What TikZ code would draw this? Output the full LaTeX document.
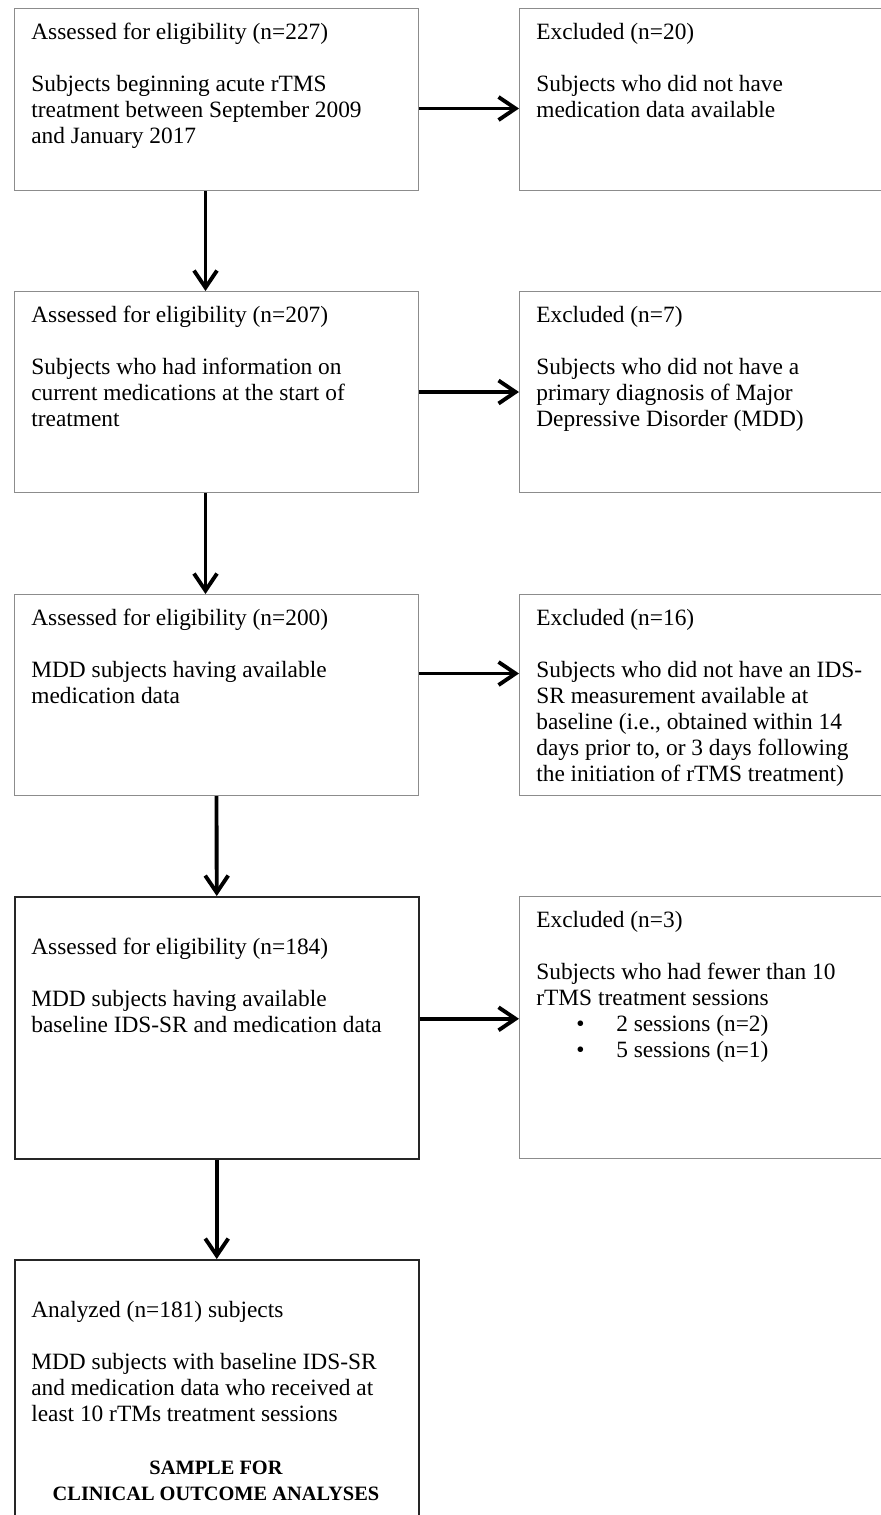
\documentclass[tikz,border=0pt]{standalone}
\usepackage{fontspec}
\setmainfont{Liberation Serif}
\usetikzlibrary{positioning,arrows.meta}

\begin{document}
\begin{tikzpicture}[
  x=0.02cm, y=-0.02cm,
  flowbox/.style={draw=black!45, line width=0.6pt, minimum width=8.08cm,
    anchor=north west, inner sep=0pt},
  mainbox/.style={flowbox, draw=black!85, line width=0.9pt},
  exbox/.style={flowbox, minimum width=8.6cm},
  txt/.style={anchor=north west, align=left, inner sep=0pt,
    font=\fontsize{13.3}{14.75}\selectfont},
  arr/.style={-{Straight Barb[length=3.4mm,width=4.6mm]}, line width=2.2pt},
  color=black
]
\useasboundingbox (0,0) rectangle (881,1515);
\clip (0,0) rectangle (881,1515);

% left column
\node[flowbox, minimum height=3.64cm] (a1) at (14,8) {};
\node[flowbox, minimum height=4.02cm] (a2) at (14,291) {};
\node[flowbox, minimum height=4.02cm] (a3) at (14,594) {};
\node[mainbox, minimum height=5.24cm] (a4) at (14,896) {};
\node[mainbox, minimum height=5.8cm] (a5) at (14,1259) {};

% excluded
\node[exbox, minimum height=3.64cm] (e1) at (519,8) {};
\node[exbox, minimum height=4.02cm] (e2) at (519,291) {};
\node[exbox, minimum height=4.02cm] (e3) at (519,594) {};
\node[exbox, minimum height=5.24cm] (e4) at (519,896) {};

\node[txt] (ta1) at ([xshift=0.34cm,yshift=-0.3cm]a1.north west)
  {Assessed for eligibility (n=227)\\[14.75pt]
   Subjects beginning acute rTMS\\treatment between September 2009\\and January 2017};
\node[txt] (ta2) at ([xshift=0.34cm,yshift=-0.3cm]a2.north west)
  {Assessed for eligibility (n=207)\\[14.75pt]
   Subjects who had information on\\current medications at the start of\\treatment};
\node[txt] (ta3) at ([xshift=0.34cm,yshift=-0.3cm]a3.north west)
  {Assessed for eligibility (n=200)\\[14.75pt]
   MDD subjects having available\\medication data};
\node[txt] (ta4) at ([xshift=0.34cm,yshift=-0.84cm]a4.north west)
  {Assessed for eligibility (n=184)\\[14.75pt]
   MDD subjects having available\\baseline IDS-SR and medication data};
\node[txt] (ta5) at ([xshift=0.34cm,yshift=-0.84cm]a5.north west)
  {Analyzed (n=181) subjects\\[14.75pt]
   MDD subjects with baseline IDS-SR\\and medication data who received at\\least 10 rTMs treatment sessions};
\node[txt, anchor=base, align=center, font=\fontsize{11.6}{14.75}\selectfont\bfseries]
  (sample) at (216,1500) {SAMPLE FOR\\CLINICAL OUTCOME ANALYSES};

\node[txt] (te1) at ([xshift=0.34cm,yshift=-0.3cm]e1.north west)
  {Excluded (n=20)\\[14.75pt]
   Subjects who did not have\\medication data available};
\node[txt] (te2) at ([xshift=0.34cm,yshift=-0.3cm]e2.north west)
  {Excluded (n=7)\\[14.75pt]
   Subjects who did not have a\\primary diagnosis of Major\\Depressive Disorder (MDD)};
\node[txt] (te3) at ([xshift=0.34cm,yshift=-0.3cm]e3.north west)
  {Excluded (n=16)\\[14.75pt]
   Subjects who did not have an IDS-\\SR measurement available at\\baseline (i.e., obtained within 14\\days prior to, or 3 days following\\the initiation of rTMS treatment)};
\node[txt] (te4) at ([xshift=0.34cm,yshift=-0.3cm]e4.north west)
  {Excluded (n=3)\\[14.75pt]
   Subjects who had fewer than 10\\rTMS treatment sessions\\
   \makebox[1.6cm][l]{\hspace{0.8cm}\textbullet}2 sessions (n=2)\\
   \makebox[1.6cm][l]{\hspace{0.8cm}\textbullet}5 sessions (n=1)};

% arrows down
\draw[arr] ([xshift=-0.22cm]a1.south) -- ([xshift=-0.22cm]a2.north);
\draw[arr] ([xshift=-0.22cm]a2.south) -- ([xshift=-0.22cm]a3.north);
\draw[arr] (a3.south) -- (a4.north);
\draw[arr] (a4.south) -- (a5.north);

% arrows right
\draw[arr] ([yshift=-0.18cm]a1.east) -- ([yshift=-0.18cm]a1.east -| e1.west);
\draw[arr] (a2.east) -- (a2.east -| e2.west);
\draw[arr] ([yshift=0.43cm]a3.east) -- ([yshift=0.43cm]a3.east -| e3.west);
\draw[arr] ([yshift=0.18cm]a4.east) -- ([yshift=0.18cm]a4.east -| e4.west);
\end{tikzpicture}
\end{document}
